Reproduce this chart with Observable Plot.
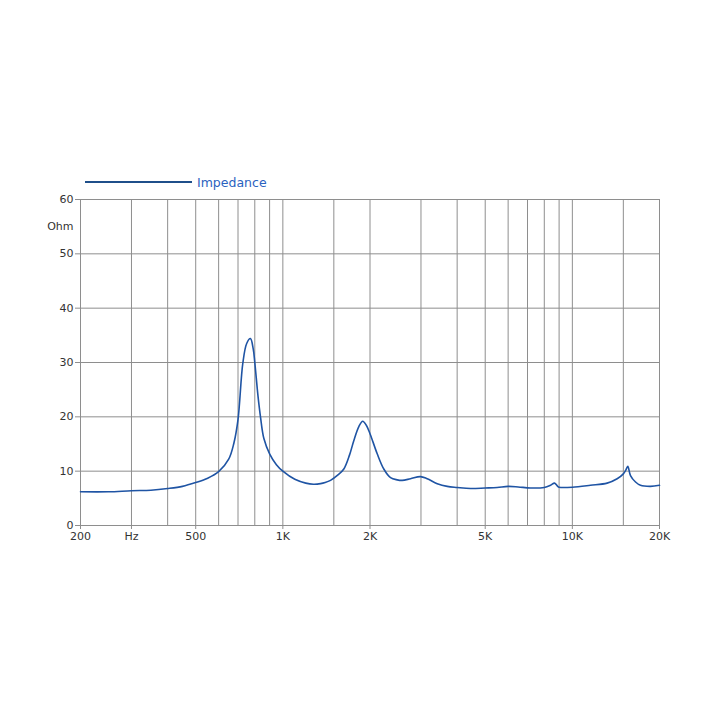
<!DOCTYPE html>
<html><head><meta charset="utf-8">
<script src="https://cdn.jsdelivr.net/npm/d3@7"></script>
<script src="https://cdn.jsdelivr.net/npm/@observablehq/plot@0.6"></script>
<style>
body{margin:0;background:#fff;}
#wrap{position:relative;width:718px;height:718px;}
#legend{position:absolute;left:85px;top:172px;height:20px;font:12.5px "DejaVu Sans",sans-serif;color:#2a62c0;display:flex;align-items:center;}
#legend .sw{display:inline-block;width:107px;height:2px;background:#1f4f8a;margin-right:5px;}
</style>
</head><body>
<div id="wrap"><div id="legend"><span class="sw"></span><span>Impedance</span></div></div>
<script>
const freqs = [200,250,300,350,400,450,500,550,600,650,677,700,727,750,773,790,800,820,837,860,900,950,1000,1100,1200,1275,1350,1400,1461,1550,1624,1700,1758,1830,1888,1940,2000,2118,2232,2355,2483,2583,2760,2989,3153,3415,3697,4000,4449,5000,5500,6000,6500,7165,8000,8405,8680,8900,9000,10000,11550,13190,14280,15000,15300,15540,15880,16530,17190,18610,20000];
const ohms = [6.2,6.2,6.4,6.5,6.8,7.2,7.9,8.7,9.9,12.2,15.1,19.5,29.8,33.5,34.4,32.5,30,24,20,16,13.2,11.2,10,8.5,7.8,7.6,7.7,7.9,8.3,9.3,10.4,13,15.6,18.2,19.2,18.5,16.9,13.2,10.4,8.8,8.4,8.3,8.6,9.0,8.6,7.7,7.2,7.0,6.8,6.9,7.0,7.2,7.1,6.9,7.0,7.4,7.8,7.2,7.05,7.05,7.4,7.8,8.6,9.5,10.2,10.9,9.2,8.0,7.4,7.2,7.4];
const gridFreqs = [300,400,500,600,700,800,900,1000,1500,2000,3000,4000,5000,6000,7000,8000,9000,10000,15000,20000];
const xTickValues = [200,300,500,1000,2000,5000,10000,20000];
const xTickLabels = ["200","Hz","500","1K","2K","5K","10K","20K"];
const yTicks = [0,10,20,30,40,50,60];
const yUnit = "Ohm";

const data = freqs.map((f,i)=>({f, z: ohms[i]}));
const xLabels = xTickValues.map((v,i)=>({v, label: xTickLabels[i]}));
const chart = Plot.plot({
  width: 718, height: 718,
  marginTop: 199, marginRight: 59, marginBottom: 193, marginLeft: 80,
  style: {fontFamily: '"DejaVu Sans", sans-serif', fontSize: "11px", color: "#333", background: "#fff"},
  x: {type: "log", domain: [200, 20000]},
  y: {type: "linear", domain: [0, 60]},
  marks: [
    Plot.ruleX(gridFreqs, {stroke: "#8e8e8e", strokeWidth: 1}),
    Plot.ruleY(yTicks, {stroke: "#8e8e8e", strokeWidth: 1}),
    Plot.ruleX([200], {stroke: "#8e8e8e"}),
    Plot.axisX({ticks: xTickValues, tickSize: 4, stroke: "#8e8e8e", tickFormat: () => "", label: null}),
    Plot.text(xLabels, {x: "v", y: 0, text: "label", lineAnchor: "top", dy: 7, fill: "#333", fontSize: 11}),
    Plot.axisY(yTicks, {tickSize: 5, tickPadding: 2, stroke: "#8e8e8e", fontSize: 11, label: null}),
    Plot.text([yUnit], {x: 200, y: 55, text: d => d, textAnchor: "end", dx: -7, fill: "#333", fontSize: 11}),
    Plot.line(data, {x: "f", y: "z", stroke: "#1f54a4", strokeWidth: 1.6, curve: "catmull-rom"})
  ]
});
document.getElementById("wrap").prepend(chart);
</script>
</body></html>
